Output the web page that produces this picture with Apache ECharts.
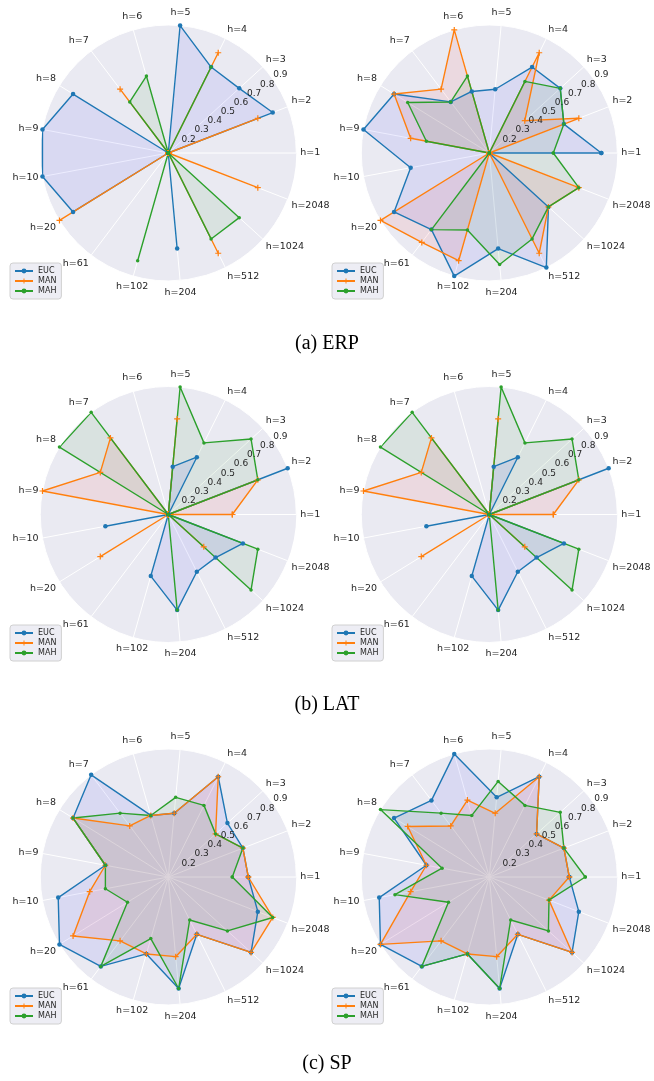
<!DOCTYPE html>
<html><head><meta charset="utf-8">
<script src="https://cdn.jsdelivr.net/npm/echarts@6/dist/echarts.min.js"></script>
<style>html,body{margin:0;padding:0;background:#fff}#c{width:654px;height:1081px}</style>
</head><body><div id="c"></div>
<script>
// ---------------- data ----------------
const categories = ['h=1','h=2','h=3','h=4','h=5','h=6','h=7','h=8','h=9','h=10','h=20','h=61','h=102','h=204','h=512','h=1024','h=2048'];
const seriesNames = ['EUC','MAN','MAH'];
const radiusMin = 0.1;
const radiusMax = 0.9;
const radiusStep = 0.1;
const captions = ['(a) ERP', '(b) LAT', '(c) SP'];

// ERP
const erpLeftEUC  = [0.1,0.8,0.7,0.7,0.9,0.1,0.1,0.8,0.9,0.9,0.8,0.1,0.1,0.7,0.1,0.1,0.1];
const erpLeftMAN  = [0.1,0.7,0.1,0.8,0.1,0.1,0.6,0.1,0.1,0.1,0.9,0.1,0.1,0.1,0.8,0.1,0.7];
const erpLeftMAH  = [0.1,0.1,0.1,0.7,0.1,0.6,0.5,0.1,0.1,0.1,0.1,0.1,0.8,0.1,0.7,0.7,0.1];
const erpRightEUC = [0.8,0.6,0.7,0.7,0.5,0.5,0.5,0.8,0.9,0.6,0.8,0.7,0.9,0.7,0.9,0.6,0.1];
const erpRightMAN = [0.1,0.7,0.4,0.8,0.1,0.9,0.6,0.8,0.6,0.1,0.9,0.8,0.8,0.1,0.8,0.6,0.7];
const erpRightMAH = [0.5,0.6,0.7,0.6,0.1,0.6,0.5,0.7,0.5,0.1,0.1,0.7,0.6,0.8,0.7,0.6,0.7];
// LAT
const latLeftEUC  = [0.1,0.9,0.1,0.5,0.4,0.1,0.1,0.1,0.1,0.5,0.1,0.1,0.5,0.7,0.5,0.5,0.6];
const latLeftMAN  = [0.5,0.7,0.1,0.1,0.7,0.1,0.7,0.6,0.9,0.1,0.6,0.1,0.1,0.1,0.1,0.4,0.1];
const latLeftMAH  = [0.1,0.7,0.8,0.6,0.9,0.1,0.9,0.9,0.1,0.1,0.1,0.1,0.1,0.7,0.1,0.8,0.7];
const latRightEUC = [0.1,0.9,0.1,0.5,0.4,0.1,0.1,0.1,0.1,0.5,0.1,0.1,0.5,0.7,0.5,0.5,0.6];
const latRightMAN = [0.5,0.7,0.1,0.1,0.7,0.1,0.7,0.6,0.9,0.1,0.6,0.1,0.1,0.1,0.1,0.4,0.1];
const latRightMAH = [0.1,0.7,0.8,0.6,0.9,0.1,0.9,0.9,0.1,0.1,0.1,0.1,0.1,0.7,0.1,0.8,0.7];
// SP
const spLeftEUC   = [0.6,0.6,0.6,0.8,0.5,0.5,0.9,0.8,0.5,0.8,0.9,0.8,0.6,0.8,0.5,0.8,0.7];
const spLeftMAN   = [0.6,0.6,0.5,0.8,0.5,0.5,0.5,0.8,0.5,0.6,0.8,0.6,0.6,0.6,0.5,0.8,0.8];
const spLeftMAH   = [0.5,0.6,0.5,0.6,0.6,0.5,0.6,0.8,0.5,0.5,0.4,0.8,0.5,0.8,0.4,0.6,0.8];
const spRightEUC  = [0.6,0.6,0.5,0.8,0.6,0.9,0.7,0.8,0.5,0.8,0.9,0.8,0.6,0.8,0.5,0.8,0.7];
const spRightMAN  = [0.6,0.6,0.5,0.8,0.5,0.6,0.5,0.7,0.5,0.6,0.9,0.6,0.6,0.6,0.5,0.8,0.5];
const spRightMAH  = [0.7,0.6,0.7,0.6,0.7,0.5,0.6,0.9,0.4,0.7,0.4,0.8,0.6,0.8,0.4,0.6,0.5];

const panels = [
  [erpLeftEUC, erpLeftMAN, erpLeftMAH],
  [erpRightEUC, erpRightMAN, erpRightMAH],
  [latLeftEUC, latLeftMAN, latLeftMAH],
  [latRightEUC, latRightMAN, latRightMAH],
  [spLeftEUC, spLeftMAN, spLeftMAH],
  [spRightEUC, spRightMAN, spRightMAH]
];

// ---------------- layout & style ----------------
const R = 128;
const colX = [168.3, 489.3];
const rowY = [153, 514.5, 877];
const legendTop = [263, 625, 988];
const legendLeft = [10, 332];
const captionY = [343.5, 704.5, 1063.5];
const lineColors = ['#1f77b4', '#ff7f0e', '#2ca02c'];
const fillColors = ['rgba(0,0,255,0.1)', 'rgba(255,0,0,0.1)', 'rgba(0,128,0,0.1)'];
const plusPath = 'path://M2,0H3V2H5V3H3V5H2V3H0V2H2Z';
const symbols = ['circle', plusPath, 'circle'];
const symbolSizes = [4.5, 6, 3.5];
const textColor = '#262626';
const sans = 'DejaVu Sans';
const N = categories.length;

// extra outward padding for labels that ECharts centre-aligns (top / bottom)
const labelPad = {4: [0,0,4,0], 5: [0,0,5,0], 6: [0,0,2,0], 12: [2,0,0,0], 13: [3,0,0,0]};

const polar = [], angleAxis = [], radiusAxis = [], series = [], legend = [], title = [];
const P = panels.length;

// 1) grid polars (background, rings, spokes, category labels)
panels.forEach((panel, k) => {
  const cx = colX[k % 2], cy = rowY[Math.floor(k / 2)];
  polar.push({center: [cx, cy], radius: R});
  angleAxis.push({
    polarIndex: k, type: 'category', startAngle: 0, clockwise: false, boundaryGap: false,
    data: categories.map((c, i) => labelPad[i] ? {value: c, textStyle: {padding: labelPad[i]}} : c),
    axisLine: {show: true, lineStyle: {color: '#ffffff', width: 1}},
    axisTick: {show: false},
    axisLabel: {show: true, interval: 0, margin: 4, fontSize: 9.5, color: textColor, fontFamily: sans},
    splitLine: {show: true, lineStyle: {color: '#ffffff', width: 1}},
    splitArea: {show: false}
  });
  radiusAxis.push({
    polarIndex: k, type: 'value', min: radiusMin, max: radiusMax, interval: radiusStep,
    axisLine: {show: false}, axisTick: {show: false}, axisLabel: {show: false},
    splitLine: {show: true, lineStyle: {color: '#ffffff', width: 1}},
    splitArea: {show: true, areaStyle: {color: ['#EAEAF2']}}
  });
});

// 2) data polars (full-circle value angle axis, so the closed polygons are not clipped)
panels.forEach((panel, k) => {
  const cx = colX[k % 2], cy = rowY[Math.floor(k / 2)];
  const pi = P + k;
  polar.push({center: [cx, cy], radius: R});
  angleAxis.push({polarIndex: pi, type: 'value', min: 0, max: 360, startAngle: 0, clockwise: false, show: false});
  radiusAxis.push({polarIndex: pi, type: 'value', min: radiusMin, max: radiusMax, show: false});
  panel.forEach((vals, s) => {
    const data = vals.map((v, i) => [v, i * 360 / N]);
    data.push([vals[0], 360]);
    series.push({
      type: 'line', name: seriesNames[s], coordinateSystem: 'polar', polarIndex: pi,
      data: data, symbol: symbols[s], symbolSize: symbolSizes[s], showSymbol: true, showAllSymbol: true,
      clip: false,
      lineStyle: {color: lineColors[s], width: 1.4},
      itemStyle: {color: lineColors[s]},
      areaStyle: {color: fillColors[s], origin: 'start'},
      animation: false, silent: true
    });
  });
  legend.push({
    orient: 'vertical', left: legendLeft[k % 2], top: legendTop[Math.floor(k / 2)],
    data: seriesNames, itemWidth: 18, itemHeight: 6, itemGap: 2,
    padding: [4, 5, 4, 4],
    backgroundColor: 'rgba(234,234,242,0.85)', borderColor: '#d0d0d0', borderWidth: 1, borderRadius: 3,
    textStyle: {fontSize: 8, color: textColor, fontFamily: sans}, selectedMode: false
  });
});

// 3) radial tick-label polars
panels.forEach((panel, k) => {
  const cx = colX[k % 2], cy = rowY[Math.floor(k / 2)];
  const pi = 2 * P + k;
  polar.push({center: [cx, cy], radius: R});
  angleAxis.push({polarIndex: pi, type: 'value', min: 0, max: 360, startAngle: 35, show: false});
  radiusAxis.push({
    polarIndex: pi, type: 'value', min: radiusMin, max: radiusMax, interval: radiusStep, z: 10,
    axisLine: {show: false}, axisTick: {show: false}, splitLine: {show: false}, splitArea: {show: false},
    axisLabel: {show: true, margin: 0, align: 'left', verticalAlign: 'bottom', fontSize: 9, color: textColor, fontFamily: sans,
      formatter: v => (v < radiusMin + 0.05 ? '' : v.toFixed(1))}
  });
});

captions.forEach((t, i) => {
  title.push({text: t, left: 'center', top: captionY[i] - 10, padding: 0,
    textStyle: {fontFamily: 'Liberation Serif', fontSize: 20, fontWeight: 'normal', color: '#000'}});
});

const chart = echarts.init(document.getElementById('c'), null, {renderer: 'canvas'});
chart.setOption({animation: false, backgroundColor: '#ffffff', title, polar, angleAxis, radiusAxis, legend, series});
</script></body></html>
